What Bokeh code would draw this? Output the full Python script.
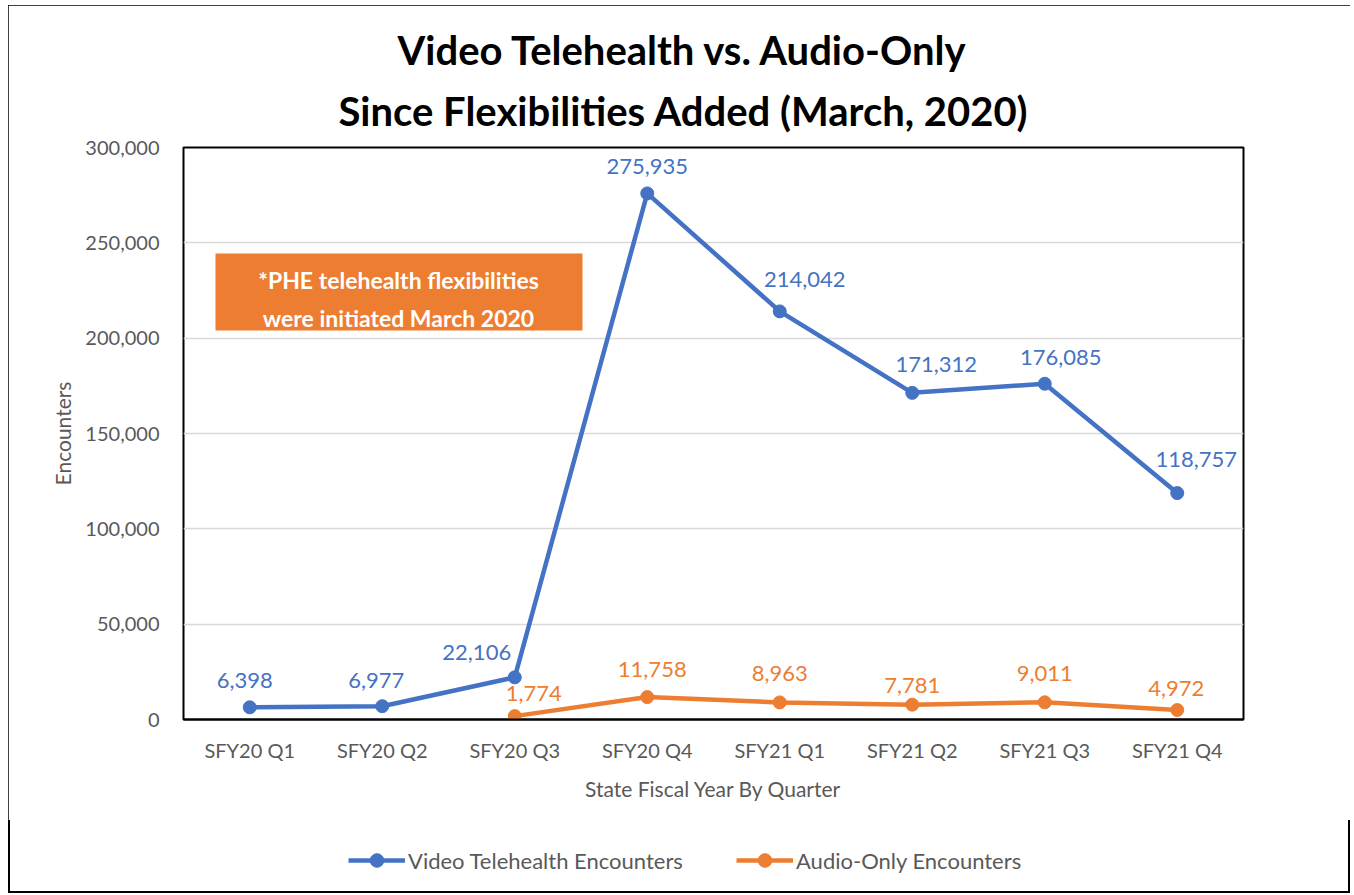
from bokeh.plotting import figure
from bokeh.layouts import column
from bokeh.models import (ColumnDataSource, FactorRange, Range1d, SingleIntervalTicker,
                          NumeralTickFormatter, Label, BoxAnnotation, Legend, Title)
from bokeh.core.properties import value
from bokeh.embed import file_html
from bokeh.resources import INLINE

# ---- data ----
quarters = ["SFY20 Q1", "SFY20 Q2", "SFY20 Q3", "SFY20 Q4",
            "SFY21 Q1", "SFY21 Q2", "SFY21 Q3", "SFY21 Q4"]
video = [6398, 6977, 22106, 275935, 214042, 171312, 176085, 118757]
audio_quarters = ["SFY20 Q3", "SFY20 Q4", "SFY21 Q1", "SFY21 Q2", "SFY21 Q3", "SFY21 Q4"]
audio = [1774, 11758, 8963, 7781, 9011, 4972]
series_names = ["Video Telehealth Encounters", "Audio-Only Encounters"]
title_lines = ["Video Telehealth vs. Audio-Only", "Since Flexibilities Added (March, 2020)"]
note_lines = ["*PHE telehealth flexibilities", "were initiated March 2020"]

# label placement (pixels, style only)
video_dx = [-5, -6, -38, 0, 25, 24, 16, 19]
video_dy = [27, 26, 25, 27, 32, 28, 26, 34]
audio_dx = [19, 5, 0, 0, 0, -1]
audio_dy = [23, 28, 29, 19, 29, 22]

BLUE = "#4472C4"
ORANGE = "#ED7D31"
GREY = "#595959"
FONT = "Lato"

W = 1342
p = figure(width=W, height=815, x_range=FactorRange(*quarters, range_padding=0),
           y_range=Range1d(0, 300000), output_backend="svg", toolbar_location=None,
           min_border_left=175, min_border_top=142, min_border_right=107,
           min_border_bottom=101)

p.outline_line_color = "black"
p.outline_line_width = 2
p.xgrid.grid_line_color = None
p.ygrid.grid_line_color = "#D9D9D9"
p.ygrid.grid_line_width = 1.5

p.yaxis.ticker = SingleIntervalTicker(interval=50000)
p.yaxis.formatter = NumeralTickFormatter(format="0,0")
p.yaxis.axis_line_color = None
p.yaxis.major_tick_line_color = None
p.yaxis.minor_tick_line_color = None
p.yaxis.major_label_standoff = 18
p.yaxis.axis_label = "Encounters"
p.yaxis.axis_label_standoff = 7

p.xaxis.axis_line_color = "black"
p.xaxis.axis_line_width = 2
p.xaxis.major_tick_line_color = None
p.xaxis.minor_tick_line_color = None
p.xaxis.major_label_standoff = 12
p.xaxis.axis_label = "State Fiscal Year By Quarter"
p.xaxis.axis_label_standoff = 11

for ax in (p.xaxis, p.yaxis):
    ax.major_label_text_font = FONT
    ax.major_label_text_font_size = "20px"
    ax.major_label_text_color = GREY
    ax.axis_label_text_font = FONT
    ax.axis_label_text_font_size = "21px"
    ax.axis_label_text_font_style = "normal"
    ax.axis_label_text_color = GREY

vsrc = ColumnDataSource(dict(x=quarters, y=video, t=[f"{v:,}" for v in video],
                             xo=video_dx, yo=[-d for d in video_dy]))
asrc = ColumnDataSource(dict(x=audio_quarters, y=audio, t=[f"{v:,}" for v in audio],
                             xo=audio_dx, yo=[-d for d in audio_dy]))

p.line("x", "y", source=vsrc, line_width=4.5, color=BLUE)
p.scatter("x", "y", source=vsrc, size=13, color=BLUE)
p.line("x", "y", source=asrc, line_width=4.5, color=ORANGE)
p.scatter("x", "y", source=asrc, size=13, color=ORANGE)

for src, col in ((vsrc, BLUE), (asrc, ORANGE)):
    p.text("x", "y", text="t", source=src, x_offset="xo", y_offset="yo",
           text_align="center", text_baseline="alphabetic",
           text_font=value(FONT), text_font_size="22px", text_color=col)

# title: second line nearest to the frame
p.add_layout(Title(text=title_lines[1], align="left", offset=155, standoff=25,
                   text_font=FONT, text_font_size="40px", text_font_style="bold",
                   text_color="black"), "above")
p.add_layout(Title(text=title_lines[0], align="left", offset=214, standoff=-3,
                   text_font=FONT, text_font_size="40px", text_font_style="bold",
                   text_color="black"), "above")

# annotation box
p.add_layout(BoxAnnotation(left=32, right=399, top=466, bottom=389,
                           left_units="screen", right_units="screen",
                           top_units="screen", bottom_units="screen",
                           fill_color=ORANGE, fill_alpha=1, line_color=None))
for txt, yy in zip(note_lines, (440, 402)):
    p.add_layout(Label(x=215, y=yy, x_units="screen", y_units="screen", text=txt,
                       text_align="center", text_baseline="alphabetic",
                       text_font=FONT, text_font_size="23px", text_font_style="bold",
                       text_color="white"))

# legend strip (separate figure so it is never clipped by the plot frame);
# its y range lies far below the data, so only the legend shows
lg = figure(width=W, height=73, x_range=FactorRange(*quarters, range_padding=0),
            y_range=Range1d(-2000000, -1000000),
            output_backend="svg", toolbar_location=None, x_axis_type=None,
            y_axis_type=None, min_border=0, outline_line_color=None,
            border_fill_alpha=0, background_fill_alpha=0)
lg.grid.visible = False
items = []
for name, src, col in zip(series_names, (vsrc, asrc), (BLUE, ORANGE)):
    r1 = lg.line("x", "y", source=src, line_width=4.5, color=col)
    r2 = lg.scatter("x", "y", source=src, size=13, color=col)
    items.append((name, [r1, r2]))
legend = Legend(items=items, orientation="horizontal", location=(165, 16),
                glyph_width=57, glyph_height=34, label_standoff=3, spacing=48,
                label_width=280, padding=0, margin=0, border_line_color=None,
                background_fill_alpha=0, label_text_font=FONT,
                label_text_font_size="22px", label_text_color=GREY)
lg.add_layout(legend, "center")

layout = column(p, lg, spacing=0)
layout.styles = {"outline": "2px solid black", "outline-offset": "-2px",
                 "margin-left": "8px", "margin-top": "5px"}

open("out.html", "w").write(file_html(layout, INLINE))
